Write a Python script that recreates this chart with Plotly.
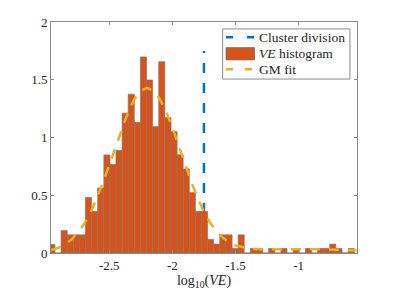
import plotly.graph_objects as go

# ---- data ----
bin_centers = [-2.955, -2.907, -2.858, -2.810, -2.761, -2.713, -2.665, -2.616, -2.568, -2.519,
               -2.471, -2.423, -2.374, -2.326, -2.277, -2.229, -2.181, -2.132, -2.084, -2.035,
               -1.987, -1.939, -1.890, -1.842, -1.793, -1.745, -1.697, -1.648, -1.600, -1.551,
               -1.503, -1.455, -1.406, -1.358, -1.309, -1.261, -1.213, -1.164, -1.116, -1.067,
               -1.019, -0.971, -0.922, -0.874, -0.825, -0.777, -0.729, -0.680, -0.632, -0.583]
hist_values = [0.074, 0.0, 0.194, 0.157, 0.157, 0.157, 0.480, 0.360, 0.562, 0.849,
               0.766, 0.888, 1.211, 1.375, 1.130, 1.698, 1.498, 1.094, 1.656, 1.172,
               1.050, 0.850, 0.728, 0.523, 0.360, 0.360, 0.118, 0.077, 0.157, 0.157,
               0.039, 0.157, 0.0, 0.039, 0.039, 0.0, 0.039, 0.0, 0.039, 0.0,
               0.039, 0.0, 0.039, 0.0, 0.039, 0.039, 0.077, 0.039, 0.0, 0.039]
bin_width = 0.0484

gm_x = [-2.96, -2.95, -2.90, -2.85, -2.80, -2.75, -2.70, -2.65, -2.60, -2.55, -2.50,
        -2.45, -2.40, -2.35, -2.30, -2.25, -2.20, -2.15, -2.10, -2.05, -2.00,
        -1.95, -1.90, -1.85, -1.80, -1.75, -1.70, -1.65, -1.60, -1.55, -1.50,
        -1.45, -1.40, -1.30, -1.20, -1.10, -1.00, -0.90, -0.80, -0.70, -0.60, -0.54]
gm_y = [0.026, 0.029, 0.047, 0.076, 0.117, 0.174, 0.251, 0.349, 0.470, 0.610, 0.764,
        0.926, 1.082, 1.223, 1.334, 1.405, 1.430, 1.405, 1.334, 1.225, 1.085,
        0.929, 0.769, 0.616, 0.477, 0.358, 0.261, 0.186, 0.131, 0.092, 0.066,
        0.050, 0.040, 0.033, 0.033, 0.034, 0.035, 0.034, 0.032, 0.028, 0.024, 0.021]

cluster_division = -1.75
division_top = 1.75

x_ticks = [-2.5, -2.0, -1.5, -1.0]
x_tick_labels = ["-2.5", "-2", "-1.5", "-1"]
y_ticks = [0, 0.5, 1, 1.5, 2]
y_tick_labels = ["0", "0.5", "1", "1.5", "2"]
x_range = [-2.962, -0.537]
y_range = [0, 2]

legend_labels = ["Cluster division", "<i>VE</i> histogram", "GM fit"]

BLUE = "#0072BD"
ORANGE = "#D95319"
YELLOW = "#EDB120"
AXIS = "#8a8a8a"
TEXT = "#262626"
FONT = "'Liberation Serif', 'DejaVu Serif', serif"

fig = go.Figure()

fig.add_trace(go.Bar(x=bin_centers, y=hist_values, width=bin_width,
                     name=legend_labels[1], showlegend=False,
                     marker=dict(color=ORANGE, line=dict(color="#7a7a7a", width=0.7))))

fig.add_trace(go.Scatter(x=gm_x, y=gm_y, mode="lines", name=legend_labels[2], showlegend=False,
                         line=dict(color=YELLOW, width=2.5, dash="10px,9px")))

# cluster division line, drawn beneath the bars
fig.add_shape(type="line", xref="x", yref="y",
              x0=cluster_division, x1=cluster_division, y0=0, y1=division_top,
              line=dict(color=BLUE, width=2.5, dash="10px,10px"), layer="below")

# ---- legend box (MATLAB style, compact rows) ----
lx0, lx1, ly0, ly1 = 0.561, 0.977, 0.753, 0.970
sx0, sx1 = 0.572, 0.665
tx = 0.674
row_y = [0.934, 0.862, 0.795]

fig.add_shape(type="rect", xref="paper", yref="paper", x0=lx0, x1=lx1, y0=ly0, y1=ly1,
              fillcolor="white", line=dict(color="#8a8a8a", width=1), layer="above")
fig.add_shape(type="line", xref="paper", yref="paper", x0=sx0, x1=sx1, y0=row_y[0], y1=row_y[0],
              line=dict(color=BLUE, width=2.5, dash="7px,14px"), layer="above")
fig.add_shape(type="rect", xref="paper", yref="paper", x0=sx0, x1=sx1,
              y0=row_y[1] - 0.026, y1=row_y[1] + 0.027,
              fillcolor=ORANGE, line=dict(color="#6a6a6a", width=0.8), layer="above")
fig.add_shape(type="line", xref="paper", yref="paper", x0=sx0, x1=sx1, y0=row_y[2], y1=row_y[2],
              line=dict(color=YELLOW, width=2.5, dash="7px,12px"), layer="above")
for lab, yy in zip(legend_labels, row_y):
    fig.add_annotation(xref="paper", yref="paper", x=tx, y=yy, text=lab, showarrow=False,
                       xanchor="left", yanchor="middle",
                       font=dict(family=FONT, size=13.5, color=TEXT))

fig.update_layout(
    width=395, height=296,
    margin=dict(l=51, r=38, t=22, b=40),
    paper_bgcolor="white", plot_bgcolor="white",
    font=dict(family=FONT, size=13, color=TEXT),
    bargap=0,
    showlegend=False,
    xaxis=dict(range=x_range, tickmode="array", tickvals=x_ticks, ticktext=x_tick_labels,
               showline=True, linecolor=AXIS, linewidth=1, mirror="ticks",
               ticks="inside", ticklen=3, tickcolor=AXIS,
               tickfont=dict(family=FONT, size=13, color=TEXT),
               showgrid=False, zeroline=False,
               title=dict(text="log<sub>10</sub>(<i>VE</i>)", standoff=2,
                          font=dict(family=FONT, size=14, color=TEXT))),
    yaxis=dict(range=y_range, tickmode="array", tickvals=y_ticks, ticktext=y_tick_labels,
               showline=True, linecolor=AXIS, linewidth=1, mirror="ticks",
               ticks="inside", ticklen=3, tickcolor=AXIS,
               tickfont=dict(family=FONT, size=13, color=TEXT),
               showgrid=False, zeroline=False),
)

fig.write_html("out.html", config={"displayModeBar": False, "staticPlot": True},
               post_script="document.body.style.margin='0px';")
